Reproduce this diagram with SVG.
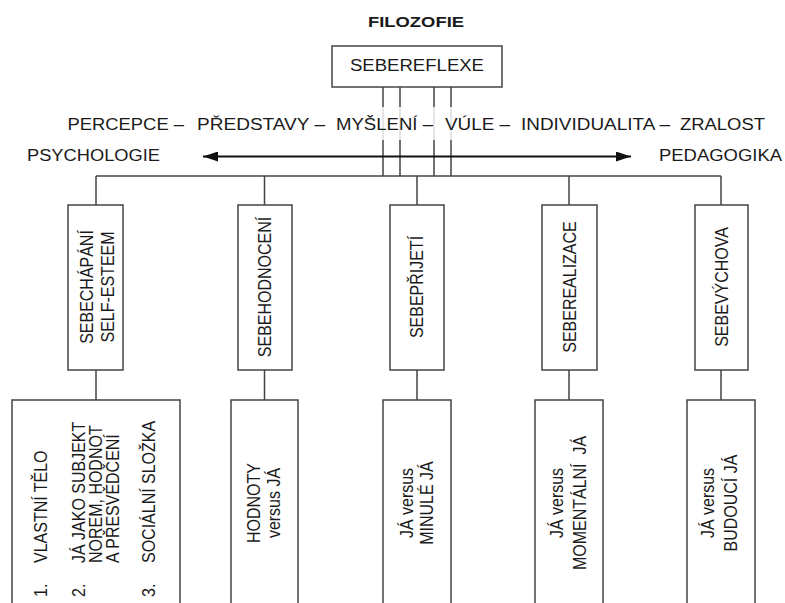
<svg xmlns="http://www.w3.org/2000/svg" width="785" height="603" viewBox="0 0 785 603">
  <style>
    .t { font-family: "Liberation Sans", Arial, sans-serif; font-size: 16px; fill: #1a1a1a; }
    .b { font-weight: bold; font-size: 15px; }
    .box { fill: #fff; stroke: #444; stroke-width: 1.5; }
    .ln { fill: none; stroke: #444; stroke-width: 1.5; }
    .faint { fill: none; stroke: #ddd; stroke-width: 1.5; }
    .arr { fill: none; stroke: #111; stroke-width: 1.8; }
    .mid { text-anchor: middle; }
  </style>
  <defs>
    <marker id="head" viewBox="0 0 15 10" refX="15" refY="5" markerWidth="15" markerHeight="10" markerUnits="userSpaceOnUse" orient="auto-start-reverse">
      <path d="M0,0 L15,5 L0,10 Z" fill="#111"/>
    </marker>
  </defs>
  <rect width="785" height="603" fill="#fff"/>

  <!-- connectors -->
  <g id="connectors">
    <!-- four strands from the root box down to the bus -->
    <path class="ln" d="M383,87 V107 M400,87 V107 M434,87 V107 M451,87 V107"/>
    <path class="faint" d="M383,107 V140 M400,107 V140 M434,107 V140 M451,107 V140"/>
    <path class="ln" d="M383,140 V176 M400,140 V176 M434,140 V176 M451,140 V176"/>
    <!-- psychology / pedagogy axis -->
    <line class="arr" x1="203" y1="156.5" x2="631" y2="156.5" marker-start="url(#head)" marker-end="url(#head)"/>
    <!-- bus -->
    <path class="ln" d="M96,176 H721"/>
    <path class="ln" d="M96,176 V205 M264.5,176 V205 M417,176 V205 M569,176 V205 M721,176 V205"/>
    <path class="ln" d="M96,370 V400 M264.5,370 V400 M417,370 V400 M569,370 V400 M721,370 V400"/>
  </g>

  <!-- header label -->
  <g id="filozofie">
    <text class="t b" x="368" y="27" textLength="96" lengthAdjust="spacingAndGlyphs">FILOZOFIE</text>
  </g>

  <!-- root -->
  <g id="sebereflexe">
    <rect class="box" x="332" y="46" width="170" height="41"/>
    <text class="t" x="350" y="70.5" font-size="16.5" textLength="134" lengthAdjust="spacingAndGlyphs">SEBEREFLEXE</text>
  </g>

  <!-- stages row -->
  <g id="stages">
    <text class="t" y="129.5" x="67.5" textLength="116.5" lengthAdjust="spacingAndGlyphs">PERCEPCE –</text>
    <text class="t" y="129.5" x="197" textLength="128" lengthAdjust="spacingAndGlyphs">PŘEDSTAVY –</text>
    <text class="t" y="129.5" x="336" textLength="97" lengthAdjust="spacingAndGlyphs">MYŠLENÍ –</text>
    <text class="t" y="129.5" x="445" textLength="65" lengthAdjust="spacingAndGlyphs">VÚLE –</text>
    <text class="t" y="129.5" x="521" textLength="149" lengthAdjust="spacingAndGlyphs">INDIVIDUALITA –</text>
    <text class="t" y="129.5" x="680" textLength="85" lengthAdjust="spacingAndGlyphs">ZRALOST</text>
  </g>

  <g id="psychologie">
    <text class="t" x="27" y="160.5" textLength="133" lengthAdjust="spacingAndGlyphs">PSYCHOLOGIE</text>
  </g>
  <g id="pedagogika">
    <text class="t" x="659" y="160.5" textLength="123" lengthAdjust="spacingAndGlyphs">PEDAGOGIKA</text>
  </g>

  <!-- upper level boxes -->
  <g id="sebechapani">
    <rect class="box" x="68" y="205" width="55" height="165"/>
    <g transform="translate(95.5,287) scale(1.2,1) rotate(-90)">
      <text class="t mid" x="0" y="-2.5">SEBECHÁPÁNÍ</text>
      <text class="t mid" x="0" y="15.4">SELF-ESTEEM</text>
    </g>
  </g>
  <g id="sebehodnoceni">
    <rect class="box" x="238" y="205" width="54" height="165"/>
    <text class="t mid" transform="translate(265,287) scale(1.2,1) rotate(-90)" x="0" y="5">SEBEHODNOCENÍ</text>
  </g>
  <g id="sebeprijeti">
    <rect class="box" x="390" y="205" width="54" height="165"/>
    <text class="t mid" transform="translate(417,287) scale(1.2,1) rotate(-90)" x="0" y="5">SEBEPŘIJETÍ</text>
  </g>
  <g id="seberealizace">
    <rect class="box" x="542" y="205" width="55" height="165"/>
    <text class="t mid" transform="translate(569.5,287) scale(1.2,1) rotate(-90)" x="0" y="5">SEBEREALIZACE</text>
  </g>
  <g id="sebevychova">
    <rect class="box" x="695" y="205" width="53" height="165"/>
    <text class="t mid" transform="translate(721.5,287) scale(1.2,1) rotate(-90)" x="0" y="5">SEBEVÝCHOVA</text>
  </g>

  <!-- lower level boxes -->
  <g id="slozky">
    <rect class="box" x="12" y="400" width="168" height="215"/>
    <g transform="translate(96,503) scale(1.2,1) rotate(-90)">
      <text class="t" x="-94" y="-40.8">1.</text>
      <text class="t" x="-60" y="-40.8">VLASTNÍ TĚLO</text>
      <text class="t" x="-94" y="-9">2.</text>
      <text class="t" x="-60" y="-9">JÁ JAKO SUBJEKT</text>
      <text class="t" x="-60" y="5">NOREM, HODNOT</text>
      <text class="t" x="-60" y="19">A PŘESVĚDČENÍ</text>
      <text class="t" x="-94" y="48.8">3.</text>
      <text class="t" x="-60" y="48.8">SOCIÁLNÍ SLOŽKA</text>
    </g>
  </g>
  <g id="hodnoty">
    <rect class="box" x="231" y="400" width="67" height="215"/>
    <g transform="translate(264.5,503) scale(1.2,1) rotate(-90)">
      <text class="t mid" x="0" y="-3.75">HODNOTY</text>
      <text class="t mid" x="0" y="12.9">versus JÁ</text>
    </g>
  </g>
  <g id="minule">
    <rect class="box" x="383" y="400" width="68" height="215"/>
    <g transform="translate(417,503) scale(1.2,1) rotate(-90)">
      <text class="t mid" x="0" y="-3.3">JÁ versus</text>
      <text class="t mid" x="0" y="13.3">MINULÉ JÁ</text>
    </g>
  </g>
  <g id="momentalni">
    <rect class="box" x="535" y="400" width="68" height="215"/>
    <g transform="translate(569,503) scale(1.2,1) rotate(-90)">
      <text class="t mid" x="0" y="-5">JÁ versus</text>
      <text class="t mid" x="0" y="14.2" xml:space="preserve">MOMENTÁLNÍ  JÁ</text>
    </g>
  </g>
  <g id="budouci">
    <rect class="box" x="687" y="400" width="68" height="215"/>
    <g transform="translate(721,503) scale(1.2,1) rotate(-90)">
      <text class="t mid" x="0" y="-5.8">JÁ versus</text>
      <text class="t mid" x="0" y="13.3">BUDOUCÍ JÁ</text>
    </g>
  </g>
</svg>
